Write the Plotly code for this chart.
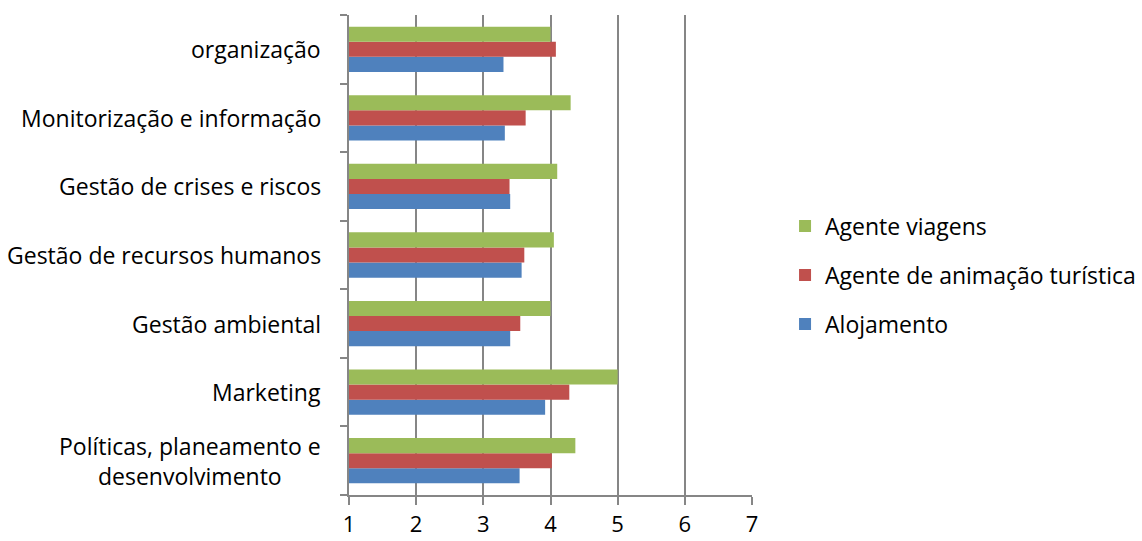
import plotly.graph_objects as go

# Categories listed bottom to top
categories = [
    "Políticas, planeamento e<br>desenvolvimento",
    "Marketing",
    "Gestão ambiental",
    "Gestão de recursos humanos",
    "Gestão de crises e riscos",
    "Monitorização e informação",
    "organização",
]

alojamento = [3.54, 3.92, 3.40, 3.57, 3.40, 3.32, 3.30]
agente_animacao = [4.02, 4.28, 3.55, 3.61, 3.39, 3.63, 4.08]
agente_viagens = [4.37, 5.00, 4.00, 4.05, 4.10, 4.30, 4.00]

x_ticks = [1, 2, 3, 4, 5, 6, 7]

# (name, values, colour, legend rank)
series = [
    ("Alojamento", alojamento, "#4F81BD", 3),
    ("Agente de animação turística", agente_animacao, "#C0504D", 2),
    ("Agente viagens", agente_viagens, "#9BBB59", 1),
]

FONT = "'Open Sans', Lato, sans-serif"
GRID = "#868686"
SIZE = 23

fig = go.Figure()
for name, vals, color, rank in series:
    fig.add_trace(go.Bar(
        name=name,
        legendgroup=name,
        legendrank=rank,
        y=list(range(len(categories))),
        x=vals,
        base=0,
        orientation="h",
        marker=dict(color=color, line=dict(width=0)),
    ))

# Category labels, each line centred, placed left of the value axis
for i, cat in enumerate(categories):
    fig.add_annotation(
        x=-0.064, xref="paper", y=i, yref="y",
        text=cat, showarrow=False, xanchor="right", yanchor="middle",
        align="center", font=dict(family=FONT, size=SIZE, color="#000000"),
    )

fig.update_layout(
    width=1142, height=541,
    margin=dict(l=349, r=390, t=15, b=46, autoexpand=False),
    paper_bgcolor="white", plot_bgcolor="white",
    barmode="group", bargap=0.34, bargroupgap=0,
    font=dict(family=FONT, size=SIZE, color="#000000"),
    legend=dict(
        x=1.082, y=0.458, xanchor="left", yanchor="middle",
        traceorder="grouped", font=dict(family=FONT, size=SIZE),
        itemwidth=30, tracegroupgap=16,
        bgcolor="rgba(0,0,0,0)",
    ),
    showlegend=True,
)

fig.update_xaxes(
    range=[1, 7], tickvals=x_ticks, ticktext=[str(v) for v in x_ticks],
    showgrid=True, gridcolor=GRID, gridwidth=2,
    showline=True, linecolor=GRID, linewidth=2,
    ticks="outside", ticklen=8, tickcolor=GRID, tickwidth=2,
    zeroline=False, tickfont=dict(family=FONT, size=22),
    ticklabelstandoff=1, automargin=False,
)
fig.update_yaxes(
    range=[-0.5, len(categories) - 0.5],
    tickvals=[i - 0.5 for i in range(len(categories) + 1)],
    ticktext=[""] * (len(categories) + 1),
    showgrid=False, showline=True, linecolor=GRID, linewidth=2,
    ticks="outside", ticklen=7, tickcolor=GRID, tickwidth=2,
    zeroline=False, automargin=False,
)

fig.write_html("out.html")
